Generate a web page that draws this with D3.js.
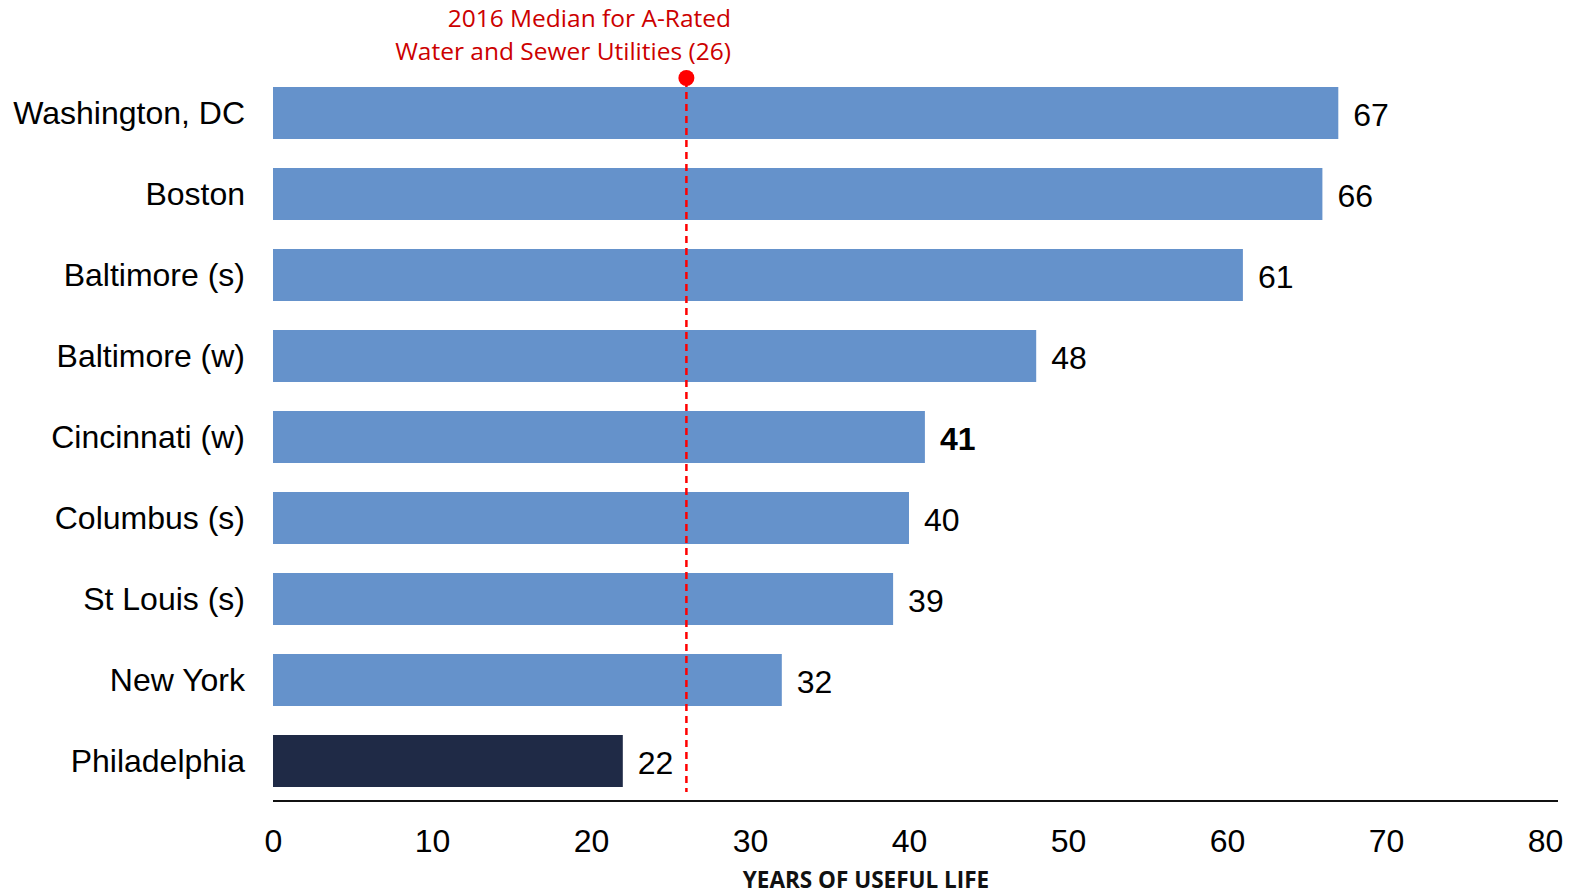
<!DOCTYPE html>
<html>
<head>
<meta charset="utf-8">
<script src="https://cdn.jsdelivr.net/npm/d3@7"></script>
<style>
  html, body { margin: 0; padding: 0; background: #fff; }
  svg { display: block; }
</style>
</head>
<body>
<svg id="chart" width="1572" height="896"></svg>
<script>
// Years of useful life remaining, by utility
const cities = ["Washington, DC", "Boston", "Baltimore (s)", "Baltimore (w)", "Cincinnati (w)",
                "Columbus (s)", "St Louis (s)", "New York", "Philadelphia"];
const years = [67, 66, 61, 48, 41, 40, 39, 32, 22];
const highlighted = ["Philadelphia"];
const boldLabels = ["Cincinnati (w)"];
const tickValues = [0, 10, 20, 30, 40, 50, 60, 70, 80];
const medianValue = 26;
const medianLines = ["2016 Median for A-Rated", "Water and Sewer Utilities (26)"];
const axisTitle = "YEARS OF USEFUL LIFE";

const data = cities.map((c, i) => ({ city: c, value: years[i] }));

const svg = d3.select("#chart");
const labelFont = "'Liberation Sans', Arial, sans-serif";
const noteFont = "'Open Sans', 'Noto Sans', sans-serif";

const x = d3.scaleLinear().domain([0, 80]).range([273, 1545]);
const y = d3.scaleBand().domain(cities).range([72.5, 801.5])
  .paddingInner(0.358).paddingOuter(0.179);

// bars
svg.append("g").selectAll("rect").data(data).join("rect")
  .attr("x", x(0))
  .attr("y", d => y(d.city))
  .attr("width", d => x(d.value) - x(0))
  .attr("height", y.bandwidth())
  .attr("fill", d => highlighted.includes(d.city) ? "#1f2a46" : "#6592cb");

// category labels
svg.append("g").selectAll("text").data(data).join("text")
  .attr("x", 245)
  .attr("y", d => y(d.city) + y.bandwidth() / 2)
  .attr("dy", "0.35em")
  .attr("text-anchor", "end")
  .attr("font-family", labelFont)
  .attr("font-size", 32)
  .attr("fill", "#000")
  .text(d => d.city);

// value labels
svg.append("g").selectAll("text").data(data).join("text")
  .attr("x", d => x(d.value) + 15)
  .attr("y", d => y(d.city) + y.bandwidth() / 2 + 2)
  .attr("dy", "0.35em")
  .attr("font-family", labelFont)
  .attr("font-size", 32)
  .attr("font-weight", d => boldLabels.includes(d.city) ? "bold" : "normal")
  .attr("fill", "#000")
  .text(d => d.value);

// x axis
const axis = d3.axisBottom(x).tickValues(tickValues).tickSize(0).tickPadding(28);
const gx = svg.append("g").attr("transform", "translate(0,801)").call(axis);
gx.select(".domain").remove();
gx.append("line")
  .attr("x1", 273).attr("x2", 1558)
  .attr("stroke", "#111").attr("stroke-width", 2);
gx.selectAll(".tick text")
  .attr("font-family", labelFont)
  .attr("font-size", 32)
  .attr("fill", "#000");

// axis title
svg.append("text")
  .attr("x", 866)
  .attr("y", 888)
  .attr("text-anchor", "middle")
  .attr("font-family", noteFont)
  .attr("font-weight", "bold")
  .attr("font-size", 22.5)
  .attr("fill", "#111")
  .text(axisTitle);

// median reference line
const mx = x(medianValue);
svg.append("line")
  .attr("x1", mx).attr("x2", mx)
  .attr("y1", 80).attr("y2", 792)
  .attr("stroke", "#ff0000")
  .attr("stroke-width", 2.5)
  .attr("stroke-dasharray", "7,5");
svg.append("circle")
  .attr("cx", mx).attr("cy", 78).attr("r", 8)
  .attr("fill", "#ff0000");

svg.append("g").selectAll("text").data(medianLines).join("text")
  .attr("x", 731)
  .attr("y", (d, i) => 27 + i * 33)
  .attr("text-anchor", "end")
  .attr("font-family", noteFont)
  .attr("font-size", 24.5)
  .attr("fill", "#cc0000")
  .text(d => d);
</script>
</body>
</html>
